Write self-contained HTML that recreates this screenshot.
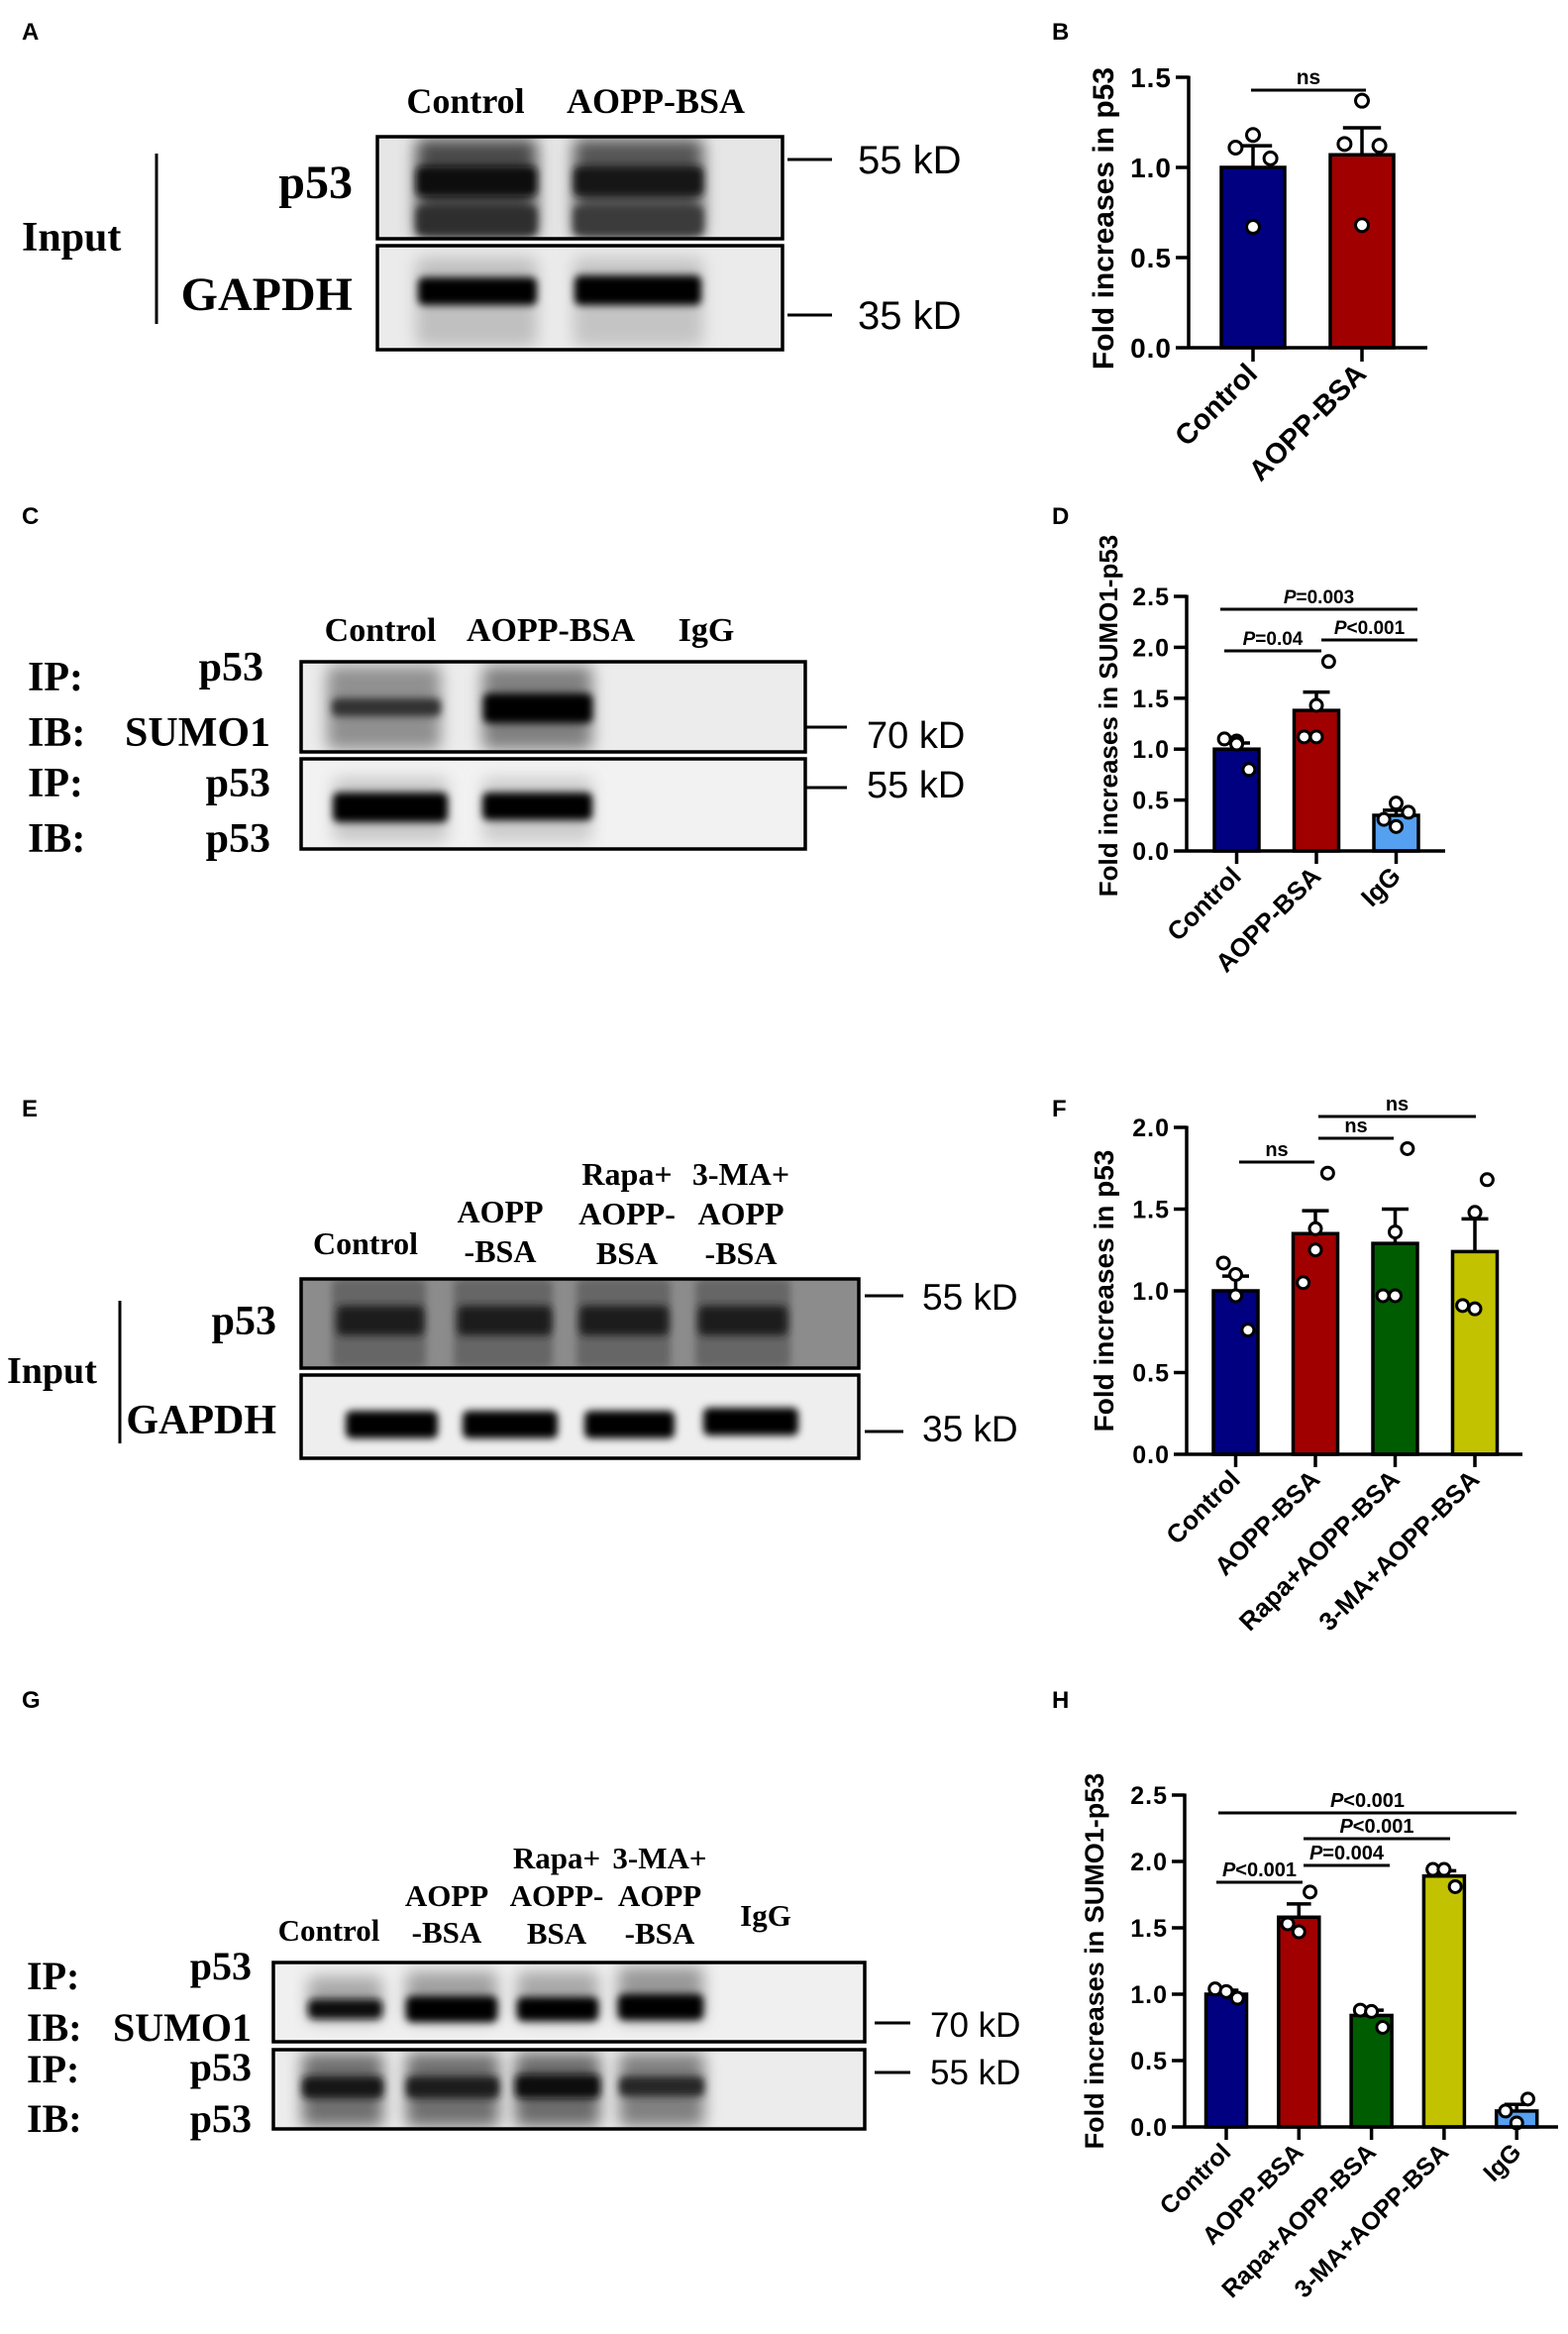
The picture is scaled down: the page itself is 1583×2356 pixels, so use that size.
<!DOCTYPE html>
<html><head><meta charset="utf-8">
<style>
html,body{margin:0;padding:0;background:#fff;}
svg{display:block;}
.serif{font-family:"Liberation Serif",serif;font-weight:bold;}
.sans{font-family:"Liberation Sans",sans-serif;}
</style></head>
<body>
<svg id="fig" width="1583" height="2356" viewBox="0 0 1583 2356" xmlns="http://www.w3.org/2000/svg">
<defs>
<filter id="blur4" x="-20%" y="-50%" width="140%" height="200%"><feGaussianBlur stdDeviation="4"/></filter>
<filter id="blur8" x="-20%" y="-50%" width="140%" height="200%"><feGaussianBlur stdDeviation="8"/></filter>
</defs>

<g class="sans" font-weight="bold" font-size="24">
<text x="22" y="40">A</text>
<text x="1062" y="40">B</text>
<text x="22" y="529">C</text>
<text x="1062" y="529">D</text>
<text x="22" y="1127">E</text>
<text x="1062" y="1127">F</text>
<text x="22" y="1724">G</text>
<text x="1062" y="1724">H</text>
</g>

<g class="serif">
<text x="470" y="114" font-size="36" text-anchor="middle">Control</text>
<text x="662" y="114" font-size="36" text-anchor="middle">AOPP-BSA</text>
<text x="356" y="200" font-size="48" text-anchor="end">p53</text>
<text x="356" y="313" font-size="48" text-anchor="end">GAPDH</text>
<text x="22" y="253" font-size="42">Input</text>
</g>
<line x1="158" y1="155" x2="158" y2="327" stroke="#000" stroke-width="3"/>
<g class="sans" font-size="40">
<line x1="795" y1="161" x2="840" y2="161" stroke="#000" stroke-width="3"/>
<text x="866" y="175">55 kD</text>
<line x1="795" y1="318" x2="840" y2="318" stroke="#000" stroke-width="3"/>
<text x="866" y="332">35 kD</text>
</g>

<g class="serif">
<text x="384" y="647" font-size="34" text-anchor="middle">Control</text>
<text x="556" y="647" font-size="34" text-anchor="middle">AOPP-BSA</text>
<text x="713" y="647" font-size="34" text-anchor="middle">IgG</text>
<text x="28" y="697" font-size="42">IP:</text>
<text x="266" y="687" font-size="42" text-anchor="end">p53</text>
<text x="28" y="753" font-size="42">IB:</text>
<text x="273" y="753" font-size="42" text-anchor="end">SUMO1</text>
<text x="28" y="804" font-size="42">IP:</text>
<text x="273" y="804" font-size="42" text-anchor="end">p53</text>
<text x="28" y="860" font-size="42">IB:</text>
<text x="273" y="860" font-size="42" text-anchor="end">p53</text>
</g>
<g class="sans" font-size="38">
<line x1="814" y1="734" x2="855" y2="734" stroke="#000" stroke-width="3"/>
<text x="875" y="755">70 kD</text>
<line x1="814" y1="795" x2="855" y2="795" stroke="#000" stroke-width="3"/>
<text x="875" y="805">55 kD</text>
</g>

<g class="serif" font-size="32" text-anchor="middle">
<text x="369" y="1266">Control</text>
<text x="505" y="1234">AOPP</text><text x="505" y="1274">-BSA</text>
<text x="633" y="1196">Rapa+</text><text x="633" y="1236">AOPP-</text><text x="633" y="1276">BSA</text>
<text x="748" y="1196">3-MA+</text><text x="748" y="1236">AOPP</text><text x="748" y="1276">-BSA</text>
</g>
<g class="serif">
<text x="279" y="1347" font-size="42" text-anchor="end">p53</text>
<text x="279" y="1447" font-size="42" text-anchor="end">GAPDH</text>
<text x="7" y="1396" font-size="38">Input</text>
</g>
<line x1="121" y1="1313" x2="121" y2="1457" stroke="#000" stroke-width="3"/>
<g class="sans" font-size="37">
<line x1="873" y1="1308" x2="912" y2="1308" stroke="#000" stroke-width="3"/>
<text x="931" y="1322">55 kD</text>
<line x1="873" y1="1445" x2="912" y2="1445" stroke="#000" stroke-width="3"/>
<text x="931" y="1455">35 kD</text>
</g>

<g class="serif" font-size="31" text-anchor="middle">
<text x="332" y="1959">Control</text>
<text x="451" y="1924">AOPP</text><text x="451" y="1961">-BSA</text>
<text x="562" y="1886">Rapa+</text><text x="562" y="1924">AOPP-</text><text x="562" y="1962">BSA</text>
<text x="666" y="1886">3-MA+</text><text x="666" y="1924">AOPP</text><text x="666" y="1962">-BSA</text>
<text x="773" y="1944">IgG</text>
</g>
<g class="serif" font-size="40">
<text x="27" y="2008">IP:</text>
<text x="254" y="1998" text-anchor="end">p53</text>
<text x="27" y="2060">IB:</text>
<text x="254" y="2060" text-anchor="end">SUMO1</text>
<text x="27" y="2102">IP:</text>
<text x="254" y="2100" text-anchor="end">p53</text>
<text x="27" y="2152">IB:</text>
<text x="254" y="2152" text-anchor="end">p53</text>
</g>
<g class="sans" font-size="35">
<line x1="883" y1="2042" x2="919" y2="2042" stroke="#000" stroke-width="3"/>
<text x="939" y="2056">70 kD</text>
<line x1="883" y1="2092" x2="919" y2="2092" stroke="#000" stroke-width="3"/>
<text x="939" y="2104">55 kD</text>
</g>

<g id="blots"></g>
<g id="charts"></g>
</svg>

<script>
// ===== Chart data (top level) =====
// Panel B
const bCats = ["Control", "AOPP-BSA"];
const bMeans = [1.0, 1.07];
const bErr = [0.12, 0.15];
const bPoints = [[1.11, 1.18, 1.05, 0.67], [1.13, 1.37, 1.12, 0.68]];
const bTicks = [0, 0.5, 1.0, 1.5];
const bTickLabels = ["0.0", "0.5", "1.0", "1.5"];
// Panel D
const dCats = ["Control", "AOPP-BSA", "IgG"];
const dMeans = [1.0, 1.38, 0.35];
const dErr = [0.06, 0.18, 0.05];
const dPoints = [[1.1, 1.08, 0.8, 1.05], [1.12, 1.43, 1.86, 1.12], [0.31, 0.47, 0.38, 0.24]];
const dTicks = [0, 0.5, 1.0, 1.5, 2.0, 2.5];
const dTickLabels = ["0.0", "0.5", "1.0", "1.5", "2.0", "2.5"];
// Panel F
const fCats = ["Control", "AOPP-BSA", "Rapa+AOPP-BSA", "3-MA+AOPP-BSA"];
const fMeans = [1.0, 1.35, 1.29, 1.24];
const fErr = [0.09, 0.14, 0.21, 0.2];
const fPoints = [[1.17, 0.97, 0.76, 1.1], [1.05, 1.38, 1.72, 1.25], [0.97, 1.36, 1.87, 0.97], [0.91, 1.48, 1.68, 0.89]];
const fTicks = [0, 0.5, 1.0, 1.5, 2.0];
const fTickLabels = ["0.0", "0.5", "1.0", "1.5", "2.0"];
// Panel H
const hCats = ["Control", "AOPP-BSA", "Rapa+AOPP-BSA", "3-MA+AOPP-BSA", "IgG"];
const hMeans = [1.0, 1.58, 0.84, 1.89, 0.12];
const hErr = [0.03, 0.1, 0.04, 0.04, 0.05];
const hPoints = [[1.04, 0.97, 1.02], [1.53, 1.77, 1.47], [0.88, 0.75, 0.87], [1.94, 1.81, 1.94], [0.12, 0.21, 0.03]];
const hTicks = [0, 0.5, 1.0, 1.5, 2.0, 2.5];
const hTickLabels = ["0.0", "0.5", "1.0", "1.5", "2.0", "2.5"];

const NS = "http://www.w3.org/2000/svg";
function mk(tag, attrs, parent) {
  const e = document.createElementNS(NS, tag);
  for (const k in attrs) e.setAttribute(k, attrs[k]);
  if (parent) parent.appendChild(e);
  return e;
}
const colorsB = ["#000080", "#a00000"];
const colorsD = ["#000080", "#a00000", "#55a0f0"];
const colorsF = ["#000080", "#a00000", "#005c00", "#c2c200"];
const colorsH = ["#000080", "#a00000", "#005c00", "#c2c200", "#55a0f0"];

function drawChart(id, cfg, cats, means, errs, points, ticks, tickLabels, colors, sigs) {
  const root = document.getElementById("charts");
  const g = mk("g", {}, root);
  
  
  const yMax = ticks[ticks.length - 1];
  const y = v => cfg.y0 - (v / yMax) * (cfg.y0 - cfg.yTop);
  const x = i => cfg.c0 + i * cfg.step;
  const bw = cfg.barW;
  cats.forEach((c, i) => {
    const r = mk("rect", {x: x(i) - bw / 2, y: y(means[i]), width: bw, height: cfg.y0 - y(means[i]), fill: colors[i], stroke: "#000", "stroke-width": 3.5}, g);
    
    
    const top = y(means[i] + errs[i]);
    const e1 = mk("line", {x1: x(i), y1: y(means[i]), x2: x(i), y2: top, stroke: "#000", "stroke-width": 3.5}, g);
    
    
    mk("line", {x1: x(i) - bw * 0.3, y1: top, x2: x(i) + bw * 0.3, y2: top, stroke: "#000", "stroke-width": 3.5}, g);
    const pts = points[i];
    const jit = pts.length === 4 ? [-0.55, 0, 0.55, 0] : [-0.55, 0.55, 0];
    pts.forEach((v, j) => {
      const p = mk("circle", {cx: x(i) + jit[j] * bw * 0.5, cy: y(v), r: cfg.r, fill: "#fff", stroke: "#000", "stroke-width": 3}, g);
      
      
    });
    mk("line", {x1: x(i), y1: cfg.y0, x2: x(i), y2: cfg.tickB, stroke: "#000", "stroke-width": 3.5}, g);
    const t = mk("text", {x: x(i) + 6, y: cfg.tickB + 14, "text-anchor": "end", "font-family": "Liberation Sans, sans-serif", "font-weight": "bold", "font-size": cfg.catF, transform: "rotate(-45 " + (x(i) + 6) + " " + (cfg.tickB + 14) + ")"}, g);
    t.textContent = c;
    
    
  });
  const ya = mk("line", {x1: cfg.ax, y1: y(yMax) - 1.5, x2: cfg.ax, y2: cfg.y0 + 1.5, stroke: "#000", "stroke-width": 3.5}, g);
  
  
  const xa = mk("line", {x1: cfg.ax, y1: cfg.y0, x2: cfg.right, y2: cfg.y0, stroke: "#000", "stroke-width": 3.5}, g);
  
  
  ticks.forEach((tv, k) => {
    mk("line", {x1: cfg.ax - 13, y1: y(tv), x2: cfg.ax, y2: y(tv), stroke: "#000", "stroke-width": 3.5}, g);
    const tl = mk("text", {x: cfg.ax - 17, y: y(tv) + cfg.tickF * 0.36, "text-anchor": "end", "font-family": "Liberation Sans, sans-serif", "font-weight": "bold", "font-size": cfg.tickF, "letter-spacing": 1}, g);
    tl.textContent = tickLabels[k];
    
    
  });
  const mid = (y(yMax) + cfg.y0) / 2 + cfg.titleShift;
  const tt = mk("text", {x: cfg.titleX, y: mid, "text-anchor": "middle", "font-family": "Liberation Sans, sans-serif", "font-weight": "bold", "font-size": cfg.titleF, transform: "rotate(-90 " + cfg.titleX + " " + mid + ")"}, g);
  tt.textContent = cfg.title;
  
  
  sigs.forEach(s => {
    const ly = s.y;
    mk("line", {x1: s.x1, y1: ly, x2: s.x2, y2: ly, stroke: "#000", "stroke-width": 3}, g);
    const st = mk("text", {x: (s.x1 + s.x2) / 2, y: ly - 6, "text-anchor": "middle", "font-family": "Liberation Sans, sans-serif", "font-weight": "bold", "font-size": cfg.sigF}, g);
    
    
    if (s.t.startsWith("P")) {
      const ts = mk("tspan", {"font-style": "italic"}, st); ts.textContent = "P";
      const t2 = mk("tspan", {}, st); t2.textContent = s.t.slice(1);
    } else st.textContent = s.t;
  });
}

drawChart("chart-b", {ax:1200, yTop:78, y0:351, right:1441, tickB:365, c0:1265, step:110, barW:64, r:6.5, tickF:28, catF:29, titleF:30, titleX:1124, titleShift:6, sigF:21, title:"Fold increases in p53"},
  bCats, bMeans, bErr, bPoints, bTicks, bTickLabels, colorsB,
  [{x1:1263, x2:1379, y:91, t:"ns"}]);
drawChart("chart-d", {ax:1198, yTop:602, y0:859, right:1459, tickB:872, c0:1248.5, step:80.5, barW:45, r:6, tickF:25, catF:26, titleF:26, titleX:1128, titleShift:-8, sigF:19, title:"Fold increases in SUMO1-p53"},
  dCats, dMeans, dErr, dPoints, dTicks, dTickLabels, colorsD,
  [{x1:1232, x2:1431, y:615, t:"P=0.003"}, {x1:1236, x2:1334, y:657, t:"P=0.04"}, {x1:1334, x2:1431, y:646, t:"P<0.001"}]);
drawChart("chart-f", {ax:1198, yTop:1138, y0:1468, right:1537, tickB:1481, c0:1247.5, step:80.5, barW:45, r:6, tickF:25, catF:26, titleF:28, titleX:1124, titleShift:0, sigF:20, title:"Fold increases in p53"},
  fCats, fMeans, fErr, fPoints, fTicks, fTickLabels, colorsF,
  [{x1:1251, x2:1327, y:1173, t:"ns"}, {x1:1331, x2:1407, y:1149, t:"ns"}, {x1:1331, x2:1490, y:1127, t:"ns"}]);
drawChart("chart-h", {ax:1196, yTop:1812, y0:2147, right:1573, tickB:2160, c0:1238, step:73.3, barW:41, r:6, tickF:25, catF:25, titleF:27, titleX:1114, titleShift:0, sigF:20, title:"Fold increases in SUMO1-p53"},
  hCats, hMeans, hErr, hPoints, hTicks, hTickLabels, colorsH,
  [{x1:1230, x2:1531, y:1830, t:"P<0.001"}, {x1:1316, x2:1464, y:1856, t:"P<0.001"}, {x1:1316, x2:1403, y:1883, t:"P=0.004"}, {x1:1228, x2:1315, y:1900, t:"P<0.001"}]);

// ===== Blots =====
let clipN = 0;
function blot(name, bx, by, bw, bh, bg, layers) {
  const root = document.getElementById("blots");
  const g = mk("g", {}, root);
  
  
  const cid = "clip" + (clipN++);
  const cp = mk("clipPath", {id: cid}, g);
  mk("rect", {x: bx, y: by, width: bw, height: bh}, cp);
  const inner = mk("g", {"clip-path": "url(#" + cid + ")"}, g);
  mk("rect", {x: bx, y: by, width: bw, height: bh, fill: bg}, inner);
  layers.forEach(L => {
    mk("rect", {x: L[0], y: L[1], width: L[2], height: L[3], rx: L[6] || 6, fill: L[4], filter: "url(#" + (L[5] || "blur4") + ")"}, inner);
  });
  mk("rect", {x: bx, y: by, width: bw, height: bh, fill: "none", stroke: "#000", "stroke-width": 3.5}, g);
}
blot("blot-a-p53", 381, 138, 409, 103, "#e6e6e6", [
  [420,140,122,100,"#4a4a4a","blur8"],[579,140,131,100,"#555","blur8"],
  [420,168,122,30,"#0a0a0a"],[579,168,131,30,"#121212"],
  [420,208,122,30,"#2e2e2e"],[579,208,131,30,"#3a3a3a"]]);
blot("blot-a-gapdh", 381, 248, 409, 105, "#ebebeb", [
  [420,260,122,90,"#c0c0c0","blur8"],[579,260,131,90,"#c4c4c4","blur8"],
  [422,280,120,28,"#000"],[580,278,128,30,"#000"]]);
blot("blot-c-sumo1", 304, 668, 509, 91, "#ececec", [
  [330,672,115,85,"#909090","blur8"],[487,672,111,85,"#808080","blur8"],
  [335,705,110,18,"#333"],[488,700,110,30,"#050505"]]);
blot("blot-c-p53", 304, 766, 509, 91, "#f2f2f2", [
  [336,785,116,65,"#c8c8c8","blur8"],[487,785,111,65,"#cccccc","blur8"],
  [336,800,116,30,"#000"],[487,800,111,28,"#050505"]]);
blot("blot-e-p53", 304, 1291, 563, 90, "#8c8c8c", [
  [335,1291,95,90,"#666","blur4"],[458,1291,100,90,"#666","blur4"],
  [582,1291,95,90,"#666","blur4"],[702,1291,96,90,"#666","blur4"],
  [340,1318,88,30,"#1a1a1a"],[462,1318,95,30,"#1a1a1a"],[585,1318,90,30,"#1a1a1a"],[705,1318,90,30,"#1c1c1c"]]);
blot("blot-e-gapdh", 304, 1388, 563, 84, "#eeeeee", [
  [349,1424,93,28,"#000"],[467,1424,96,28,"#000"],[590,1424,91,28,"#000"],[710,1421,96,28,"#000"]]);
blot("blot-g-sumo1", 276, 1981, 597, 80, "#f0f0f0", [
  [311,1995,75,45,"#a8a8a8","blur8"],[410,1990,92,50,"#a0a0a0","blur8"],[522,1990,82,50,"#a8a8a8","blur8"],[624,1985,86,55,"#989898","blur8"],
  [311,2018,75,20,"#0a0a0a"],[410,2015,92,26,"#050505"],[522,2016,82,24,"#050505"],[624,2013,86,26,"#050505"]]);
blot("blot-g-p53", 276, 2069, 597, 80, "#ececec", [
  [305,2072,82,75,"#707070","blur8"],[410,2072,94,75,"#707070","blur8"],[520,2072,86,75,"#6c6c6c","blur8"],[625,2072,86,75,"#808080","blur8"],
  [305,2096,82,22,"#151515"],[410,2096,94,22,"#1c1c1c"],[520,2094,86,24,"#101010"],[625,2096,86,20,"#252525"]]);
</script>
</body></html>
